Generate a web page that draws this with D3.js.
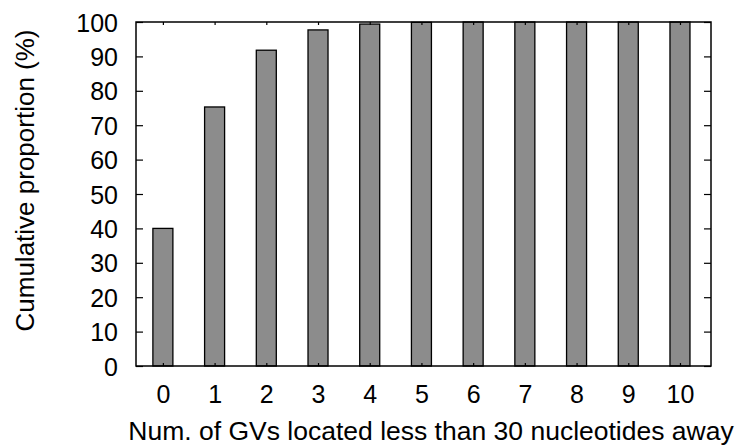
<!DOCTYPE html>
<html><head><meta charset="utf-8">
<script src="https://cdn.jsdelivr.net/npm/d3@7"></script>
<style>body{margin:0;background:#fff}svg{display:block}text{font-family:"Liberation Sans",Arial,sans-serif;fill:#000}</style>
</head><body><svg id="c" width="736" height="447"></svg>
<script>
const categories = ["0","1","2","3","4","5","6","7","8","9","10"];
const values = [40.0, 75.3, 91.8, 97.7, 99.4, 99.9, 100, 100, 100, 100, 100];
const yTicks = [0,10,20,30,40,50,60,70,80,90,100];

const svg = d3.select("#c");
const L=136, R=711, T=22, B=366;
const x = d3.scaleLinear().domain([-0.52, 10.6]).range([L, R]);
const y = d3.scaleLinear().domain([0, 100]).range([B, T]);
const bw = 20;

// bars
svg.append("g").selectAll("rect").data(values).join("rect")
  .attr("x", (d,i)=>x(i)-bw/2).attr("width", bw)
  .attr("y", d=>y(d)).attr("height", d=>B-y(d))
  .attr("fill","#8c8c8c").attr("stroke","#000").attr("stroke-width",1.3);

// y axis left ticks
const yl = svg.append("g").attr("transform",`translate(${L},0)`)
  .call(d3.axisLeft(y).tickValues(yTicks).tickSize(-7).tickPadding(18).tickFormat(d3.format("d")));
yl.select(".domain").remove();
yl.selectAll("text").style("font-size","25px").attr("dy","0.36em");
// y axis right ticks
const yr = svg.append("g").attr("transform",`translate(${R},0)`)
  .call(d3.axisRight(y).tickValues(yTicks).tickSize(-7).tickFormat(""));
yr.select(".domain").remove();

// x axis bottom labels
const xb = svg.append("g").attr("transform",`translate(0,${B})`)
  .call(d3.axisBottom(x).tickValues(categories.map((c,i)=>i)).tickSize(-3).tickPadding(19).tickFormat(i=>categories[i]));
xb.select(".domain").remove();
xb.selectAll("text").style("font-size","25px");
// x axis top ticks
const xt = svg.append("g").attr("transform",`translate(0,${T})`)
  .call(d3.axisTop(x).tickValues(categories.map((c,i)=>i)).tickSize(-3).tickFormat(""));
xt.select(".domain").remove();
svg.selectAll(".tick line").attr("stroke","#000").attr("stroke-width",1.2);

// frame
svg.append("rect").attr("x",L).attr("y",T).attr("width",R-L).attr("height",B-T)
  .attr("fill","none").attr("stroke","#000").attr("stroke-width",1.5);

// titles
svg.append("text").attr("x",431).attr("y",440).attr("text-anchor","middle")
  .style("font-size","26.5px").text("Num. of GVs located less than 30 nucleotides away");
svg.append("text").attr("transform",`translate(34,180.5) rotate(-90)`).attr("text-anchor","middle")
  .style("font-size","26px").text("Cumulative proportion (%)");
</script></body></html>
